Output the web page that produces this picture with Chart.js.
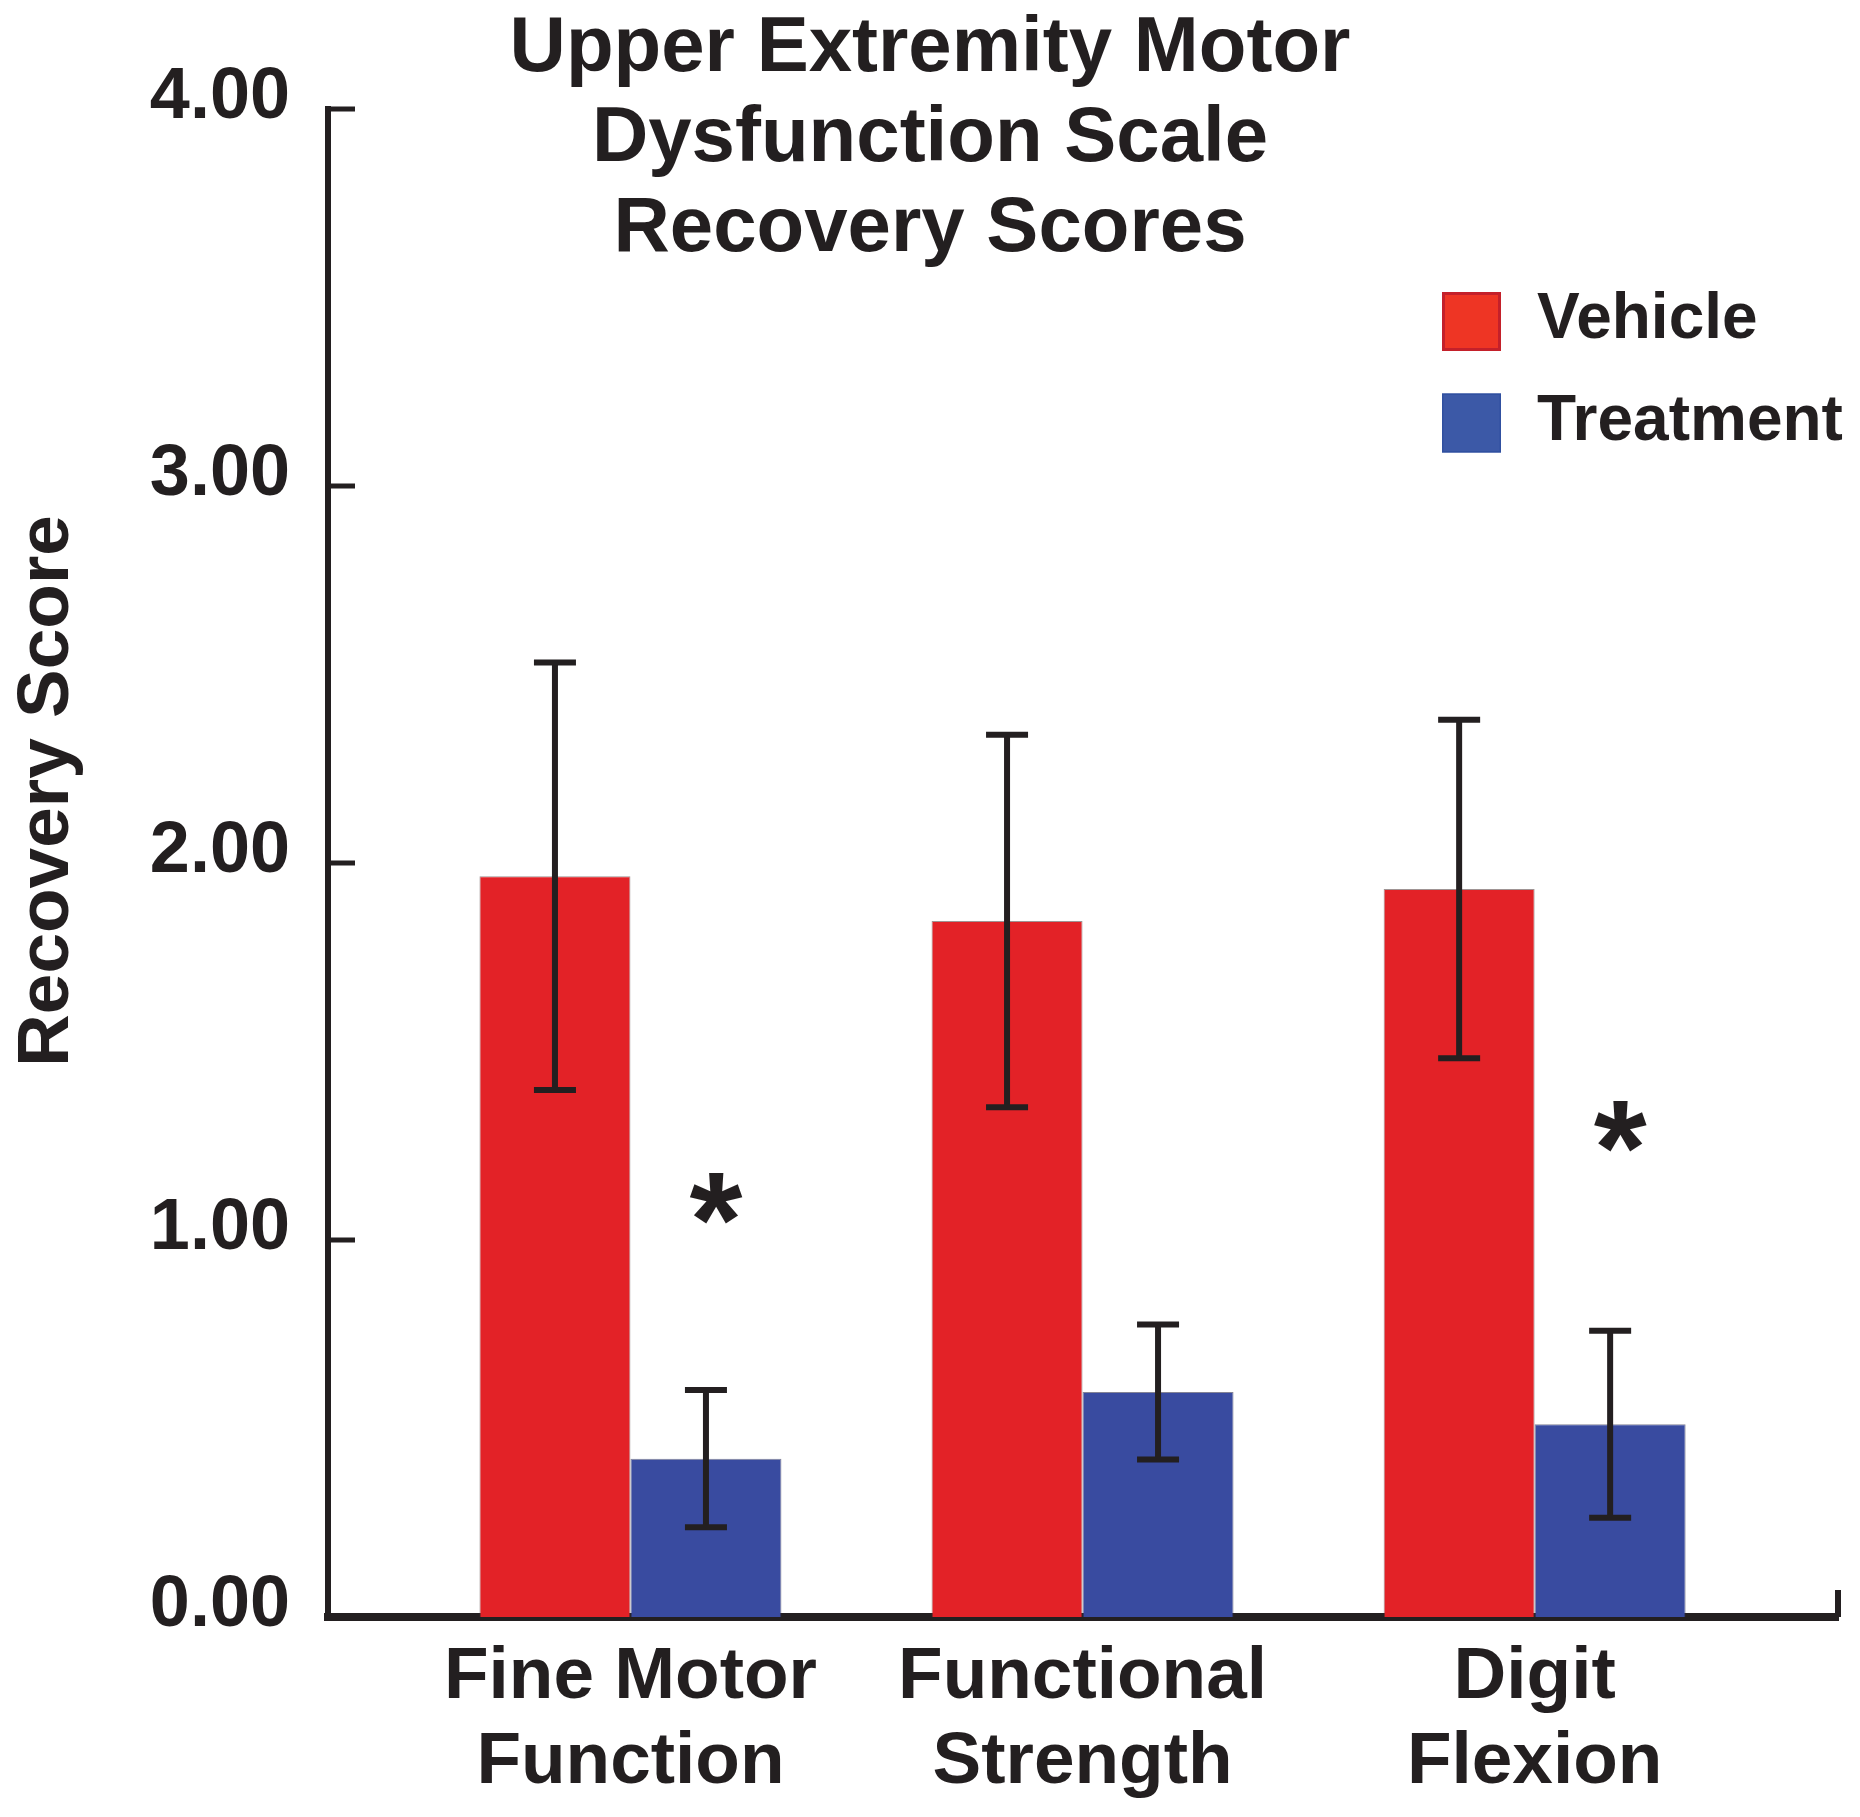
<!DOCTYPE html>
<html>
<head>
<meta charset="utf-8">
<script src="https://cdn.jsdelivr.net/npm/chart.js@4.4.0/dist/chart.umd.min.js"></script>
<style>
  html, body { margin: 0; padding: 0; background: #fff; }
  #wrap { width: 1860px; height: 1817px; }
</style>
</head>
<body>
<div id="wrap"><canvas id="scoreChart" width="1860" height="1817"></canvas></div>
<script>
// values
const categories = [['Fine Motor', 'Function'], ['Functional', 'Strength'], ['Digit', 'Flexion']];
const vehicleScores = [1.965, 1.846, 1.931];
const vehicleErrors = [0.567, 0.494, 0.449];
const treatmentScores = [0.420, 0.597, 0.511];
const treatmentErrors = [0.182, 0.179, 0.248];
const asteriskAt = [1.11, null, 1.30];   // where the * sits, null = no mark
const yTicks = [0, 1, 2, 3, 4];
const titleLines = ['Upper Extremity Motor', 'Dysfunction Scale', 'Recovery Scores'];
const yTitle = 'Recovery Score';

const ink = '#231f20';
const red = '#e32227';
const blue = '#394ba0';
const family = '"Liberation Sans", Arial, Helvetica, sans-serif';

const extras = {
    id: 'extras',
    afterDatasetsDraw(chart) {
        const ctx = chart.ctx;
        const yScale = chart.scales.y;
        const valueSets = [vehicleScores, treatmentScores];
        const errorSets = [vehicleErrors, treatmentErrors];

        ctx.save();
        ctx.strokeStyle = ink;
        ctx.lineWidth = 6;
        valueSets.forEach((vals, d) => {
            chart.getDatasetMeta(d).data.forEach((bar, i) => {
                const top = yScale.getPixelForValue(vals[i] + errorSets[d][i]);
                const bottom = yScale.getPixelForValue(vals[i] - errorSets[d][i]);
                ctx.beginPath();
                ctx.moveTo(bar.x, top); ctx.lineTo(bar.x, bottom);
                ctx.moveTo(bar.x - 21, top); ctx.lineTo(bar.x + 21, top);
                ctx.moveTo(bar.x - 21, bottom); ctx.lineTo(bar.x + 21, bottom);
                ctx.stroke();
            });
        });

        // significance stars over the treatment bars
        ctx.fillStyle = ink;
        ctx.font = 'bold 136px ' + family;
        ctx.textAlign = 'left';
        ctx.textBaseline = 'alphabetic';
        const m = ctx.measureText('*');
        chart.getDatasetMeta(1).data.forEach((bar, i) => {
            if (asteriskAt[i] === null) return;
            const cx = bar.x + 10;
            const cy = yScale.getPixelForValue(asteriskAt[i]);
            const dx = cx - (m.actualBoundingBoxRight - m.actualBoundingBoxLeft) / 2 + m.actualBoundingBoxLeft;
            const dy = cy + (m.actualBoundingBoxAscent - m.actualBoundingBoxDescent) / 2;
            ctx.fillText('*', dx, dy);
        });
        ctx.restore();
    },
    afterDraw(chart) {
        const ctx = chart.ctx;
        const area = chart.chartArea;
        const yScale = chart.scales.y;
        ctx.save();
        ctx.strokeStyle = ink;

        // tick marks point inwards
        ctx.lineWidth = 5;
        ctx.beginPath();
        yTicks.forEach(v => {
            const y = yScale.getPixelForValue(v);
            if (v === 0) return;
            ctx.moveTo(area.left, y);
            ctx.lineTo(area.left + 27, y);
        });
        ctx.stroke();

        // little upright at the end of the x axis
        ctx.lineWidth = 6;
        ctx.beginPath();
        ctx.moveTo(area.right, area.bottom);
        ctx.lineTo(area.right, area.bottom - 27);
        ctx.stroke();

        // title, three centred lines
        ctx.fillStyle = ink;
        ctx.font = 'bold 78px ' + family;
        ctx.textAlign = 'center';
        ctx.textBaseline = 'alphabetic';
        titleLines.forEach((line, i) => {
            ctx.fillText(line, chart.width / 2, 71 + i * 90);
        });

        // y axis title
        ctx.save();
        ctx.translate(68, 791);
        ctx.rotate(-Math.PI / 2);
        ctx.font = 'bold 73px ' + family;
        ctx.fillText(yTitle, 0, 0);
        ctx.restore();

        // legend
        const items = [
            { label: 'Vehicle', fill: '#ee3524', edge: '#c4202a', edgeW: 3 },
            { label: 'Treatment', fill: '#3c59a7', edge: '#3050a0', edgeW: 1.5 }
        ];
        ctx.font = 'bold 64px ' + family;
        ctx.textAlign = 'left';
        items.forEach((it, i) => {
            const top = 292 + i * 101.5;
            ctx.fillStyle = it.fill;
            ctx.fillRect(1442, top, 59, 59);
            ctx.strokeStyle = it.edge;
            ctx.lineWidth = it.edgeW;
            ctx.strokeRect(1442 + it.edgeW / 2, top + it.edgeW / 2, 59 - it.edgeW, 59 - it.edgeW);
            ctx.fillStyle = ink;
            ctx.fillText(it.label, 1537, top + 46);
        });
        ctx.restore();
    }
};

const ctx = document.getElementById('scoreChart').getContext('2d');
const chart = new Chart(ctx, {
    type: 'bar',
    data: {
        datasets: [
            {
                label: 'Vehicle',
                data: vehicleScores.map((v, i) => ({ x: i, y: v })),
                backgroundColor: red,
                borderColor: 'rgba(80,60,60,0.55)',
                borderWidth: 1,
                categoryPercentage: 0.668,
                barPercentage: 1
            },
            {
                label: 'Treatment',
                data: treatmentScores.map((v, i) => ({ x: i, y: v })),
                backgroundColor: blue,
                borderColor: 'rgba(50,50,80,0.6)',
                borderWidth: 1,
                categoryPercentage: 0.668,
                barPercentage: 1
            }
        ]
    },
    options: {
        responsive: false,
        devicePixelRatio: 1,
        animation: false,
        layout: { padding: { top: 109, right: 22, bottom: 0, left: 0 } },
        plugins: {
            legend: { display: false },
            title: { display: false },
            tooltip: { enabled: false }
        },
        scales: {
            x: {
                type: 'linear',
                min: -0.669,
                max: 2.671,
                offset: false,
                afterBuildTicks: s => { s.ticks = categories.map((c, i) => ({ value: i })); },
                afterFit: s => { s.height = 200; },
                grid: { display: false, drawTicks: false, tickLength: 0, offset: false },
                border: { display: true, color: ink, width: 8 },
                ticks: {
                    callback: v => categories[v],
                    font: { family: family, weight: 'bold', size: 73, lineHeight: 1.16 },
                    color: ink,
                    padding: 19,
                    maxRotation: 0,
                    autoSkip: false
                }
            },
            y: {
                min: 0,
                max: 4,
                afterBuildTicks: s => { s.ticks = yTicks.map(v => ({ value: v })); },
                afterFit: s => { s.width = 328; },
                grid: { display: false, drawTicks: false, tickLength: 0 },
                border: { display: true, color: ink, width: 6 },
                ticks: {
                    callback: v => v.toFixed(2),
                    font: { family: family, weight: 'bold', size: 72 },
                    color: ink,
                    padding: 38,
                    labelOffset: -11
                }
            }
        }
    },
    plugins: [extras]
});
</script>
</body>
</html>
